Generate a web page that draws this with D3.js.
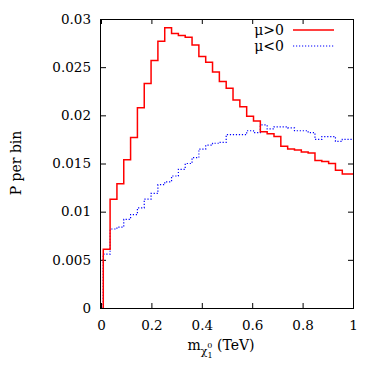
<!DOCTYPE html>
<html>
<head>
<meta charset="utf-8">
<script src="https://cdn.jsdelivr.net/npm/d3@7"></script>
<style>
  body { margin: 0; background: #fff; }
</style>
</head>
<body>
<svg id="chart" width="380" height="372"></svg>
<script>
// histogram bins (TeV)
const binStart = 0.009
const binWidth = 0.0271

// P per bin, mu > 0
const muPos = [0.0061, 0.0113, 0.0129, 0.0154, 0.0177, 0.0208, 0.0233, 0.0257, 0.0277, 0.0291,
    0.0285, 0.0283, 0.0281, 0.0273, 0.0261, 0.0255, 0.0245, 0.0235, 0.0228, 0.0216,
    0.0209, 0.0199, 0.0194, 0.0183, 0.0181, 0.0178, 0.0168, 0.0165, 0.0164, 0.0162,
    0.0161, 0.0153, 0.0152, 0.0150, 0.0143, 0.0139, 0.0139]

// P per bin, mu < 0
const muNeg = [0.0056, 0.0082, 0.0084, 0.0092, 0.0097, 0.0104, 0.0113, 0.0119, 0.0128, 0.0131,
    0.0137, 0.0144, 0.0150, 0.0156, 0.0165, 0.0169, 0.0171, 0.0172, 0.0180, 0.0180,
    0.0180, 0.0184, 0.0182, 0.0190, 0.0186, 0.0188, 0.0188, 0.0187, 0.0184, 0.0184,
    0.0182, 0.0175, 0.0178, 0.0178, 0.0173, 0.0175, 0.0175]

const xTicks = [0, 0.2, 0.4, 0.6, 0.8, 1]
const yTicks = [0, 0.005, 0.01, 0.015, 0.02, 0.025, 0.03]

const pLeft = 101, pRight = 353, pTop = 19, pBottom = 308
const serif = 'DejaVu Serif'

const x = d3.scaleLinear().domain([0, 1]).range([pLeft, pRight])
const y = d3.scaleLinear().domain([0, 0.03]).range([pBottom, pTop])

const svg = d3.select('#chart')

svg.append('defs').append('clipPath')
    .attr('id', 'plot')
    .append('rect')
    .attr('x', pLeft).attr('y', pTop - 1)
    .attr('width', pRight - pLeft).attr('height', pBottom - pTop + 1)

// axes with inward ticks, mirrored
const fmt = d => d === 0 ? '0' : String(+d.toFixed(3))
svg.append('g')
    .attr('transform', `translate(0,${pBottom})`)
    .call(d3.axisBottom(x).tickValues(xTicks).tickSizeInner(-5).tickSizeOuter(0).tickPadding(12).tickFormat(fmt))
svg.append('g')
    .attr('transform', `translate(0,${pTop})`)
    .call(d3.axisTop(x).tickValues(xTicks).tickSizeInner(-5).tickSizeOuter(0).tickFormat(''))
svg.append('g')
    .attr('transform', `translate(${pLeft},0)`)
    .call(d3.axisLeft(y).tickValues(yTicks).tickSizeInner(-5).tickSizeOuter(0).tickPadding(10).tickFormat(fmt))
svg.append('g')
    .attr('transform', `translate(${pRight},0)`)
    .call(d3.axisRight(y).tickValues(yTicks).tickSizeInner(-5).tickSizeOuter(0).tickFormat(''))

svg.selectAll('.domain').remove()
svg.selectAll('g').attr('font-family', serif)
svg.selectAll('.tick line').attr('stroke', '#000')
svg.selectAll('.tick text')
    .attr('font-family', serif)
    .attr('font-size', 13.5)
    .attr('fill', '#000')

// histogram steps
function steps(vals) {
    const pts = [[binStart, 0]]
    vals.forEach((v, i) => pts.push([binStart + i * binWidth, v]))
    pts.push([Math.min(1, binStart + vals.length * binWidth), vals[vals.length - 1]])
    return pts
}
const line = d3.line()
    .x(d => x(d[0]))
    .y(d => y(d[1]))
    .curve(d3.curveStepAfter)

const g = svg.append('g').attr('clip-path', 'url(#plot)')
g.append('path')
    .attr('d', line(steps(muNeg)))
    .attr('fill', 'none')
    .attr('stroke', '#0000ff')
    .attr('stroke-width', 1.2)
    .attr('stroke-dasharray', '1.2,1.8')
g.append('path')
    .attr('d', line(steps(muPos)))
    .attr('fill', 'none')
    .attr('stroke', '#ff0000')
    .attr('stroke-width', 1.5)

// border
svg.append('rect')
    .attr('x', pLeft - 0.5).attr('y', pTop + 0.5)
    .attr('width', pRight - pLeft + 1).attr('height', pBottom - pTop)
    .attr('fill', 'none')
    .attr('stroke', '#000')
    .attr('stroke-width', 1)

// legend
const legend = [
    { label: 'μ>0', color: '#ff0000', dash: null, w: 1.5 },
    { label: 'μ<0', color: '#0000ff', dash: '1.2,1.8', w: 1.2 }
]
legend.forEach((d, i) => {
    const ly = 30 + i * 16
    svg.append('text')
        .attr('x', 284).attr('y', ly + 5)
        .attr('text-anchor', 'end')
        .attr('font-family', serif)
        .attr('font-size', 14)
        .text(d.label)
    svg.append('line')
        .attr('x1', 293).attr('x2', 334)
        .attr('y1', ly).attr('y2', ly)
        .attr('stroke', d.color)
        .attr('stroke-width', d.w)
        .attr('stroke-dasharray', d.dash)
})

// axis labels
const xl = svg.append('text')
    .attr('x', 221).attr('y', 350)
    .attr('text-anchor', 'middle')
    .attr('font-family', serif)
    .attr('font-size', 14)
xl.append('tspan').text('m')
xl.append('tspan').attr('font-size', 11).attr('dy', 5).text('χ')
xl.append('tspan').attr('font-size', 8).attr('dy', -7).text('0')
xl.append('tspan').attr('font-size', 8).attr('dx', -5).attr('dy', 10).text('1')
xl.append('tspan').attr('dy', -8).text(' (TeV)')

svg.append('text')
    .attr('transform', 'translate(21,163) rotate(-90)')
    .attr('text-anchor', 'middle')
    .attr('font-family', serif)
    .attr('font-size', 14)
    .text('P per bin')
</script>
</body>
</html>
